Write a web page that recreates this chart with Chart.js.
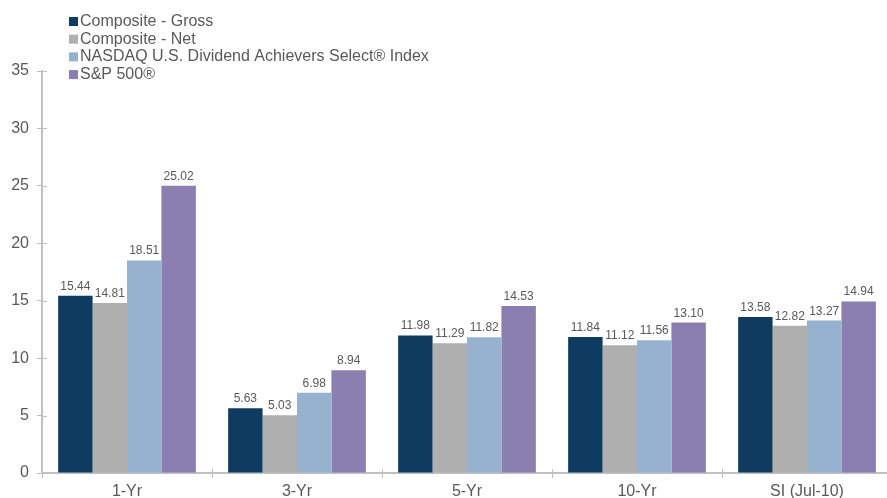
<!DOCTYPE html>
<html>
<head>
<meta charset="utf-8">
<script src="https://cdn.jsdelivr.net/npm/chart.js@4"></script>
<style>
html,body{margin:0;padding:0;background:#fff;overflow:hidden;}
#wrap{width:887px;height:498px;overflow:hidden;position:relative;}
#c{display:block;}
</style>
</head>
<body>
<div id="wrap"><canvas id="c" width="910" height="498" style="width:910px;height:498px"></canvas></div>
<script>
const categories = ["1-Yr", "3-Yr", "5-Yr", "10-Yr", "SI (Jul-10)"];
const seriesNames = ["Composite - Gross", "Composite - Net", "NASDAQ U.S. Dividend Achievers Select\u00AE Index", "S&P 500\u00AE"];
const compositeGross = [15.44, 5.63, 11.98, 11.84, 13.58];
const compositeNet = [14.81, 5.03, 11.29, 11.12, 12.82];
const nasdaqIndex = [18.51, 6.98, 11.82, 11.56, 13.27];
const sp500 = [25.02, 8.94, 14.53, 13.10, 14.94];
const yTicks = [0, 5, 10, 15, 20, 25, 30, 35];

const colors = ["#0f3b60", "#afafaf", "#97b2cf", "#8b7eb1"];
const textColor = "#595959";
const axisColor = "#c0c0c0";
const FONT = "'Liberation Sans', Arial, sans-serif";

const valuesList = [compositeGross, compositeNet, nasdaqIndex, sp500];

const labelPlugin = {
  id: 'extras',
  afterDatasetsDraw(chart) {
    const ctx = chart.ctx;
    ctx.save();
    ctx.font = "12px " + FONT;
    ctx.fillStyle = textColor;
    ctx.textAlign = "center";
    ctx.textBaseline = "alphabetic";
    chart.data.datasets.forEach((ds, di) => {
      const meta = chart.getDatasetMeta(di);
      meta.data.forEach((bar, i) => {
        ctx.fillText(ds.data[i].toFixed(2), bar.x, bar.y - 6);
      });
    });
    // inner half of tick marks
    const ys = chart.scales.y;
    const xs = chart.scales.x;
    ctx.strokeStyle = axisColor;
    ctx.lineWidth = 1;
    yTicks.forEach(v => {
      const py = Math.round(ys.getPixelForValue(v)) + 0.5;
      ctx.beginPath();
      ctx.moveTo(ys.right, py);
      ctx.lineTo(ys.right + 5, py);
      ctx.stroke();
    });
    const n = categories.length;
    const cw = (xs.right - xs.left) / n;
    for (let i = 0; i <= n; i++) {
      const px = Math.round(xs.left + i * cw) + 0.5;
      ctx.beginPath();
      ctx.moveTo(px, xs.top);
      ctx.lineTo(px, xs.top - 4);
      ctx.stroke();
    }
    // legend
    ctx.font = "16px " + FONT;
    ctx.textAlign = "left";
    ctx.textBaseline = "middle";
    const lx = 69, ly0 = 21.5, step = 17.7;
    chart.data.datasets.forEach((ds, di) => {
      const cy = ly0 + di * step;
      ctx.fillStyle = ds.backgroundColor;
      ctx.fillRect(lx, cy - 4.5, 9, 9);
      ctx.fillStyle = textColor;
      ctx.fillText(ds.label, lx + 11, cy);
    });
    ctx.restore();
  }
};

new Chart(document.getElementById('c'), {
  type: 'bar',
  data: {
    labels: categories,
    datasets: seriesNames.map((n, i) => ({
      label: n,
      data: valuesList[i],
      backgroundColor: colors[i],
      borderWidth: 0,
      categoryPercentage: 0.81,
      barPercentage: 1.0
    }))
  },
  options: {
    responsive: false,
    animation: false,
    devicePixelRatio: 1,
    layout: { padding: { left: 0, right: 18, top: 71, bottom: 0 } },
    plugins: { legend: { display: false }, tooltip: { enabled: false } },
    scales: {
      x: {
        grid: { display: true, drawOnChartArea: false, offset: true, color: axisColor, tickLength: 5 },
        border: { color: axisColor, width: 2 },
        ticks: { color: textColor, font: { family: FONT, size: 16 }, padding: 4 },
        afterFit(s) { s.height = 25; }
      },
      y: {
        min: 0, max: 35,
        afterBuildTicks(s) { s.ticks = yTicks.map(v => ({ value: v })); },
        grid: { display: true, drawOnChartArea: false, color: axisColor, tickLength: 5 },
        border: { color: axisColor, width: 2 },
        ticks: { color: textColor, font: { family: FONT, size: 16 }, padding: 8 },
        afterFit(s) { s.width = 42; }
      }
    }
  },
  plugins: [labelPlugin]
});
</script>
</body>
</html>
